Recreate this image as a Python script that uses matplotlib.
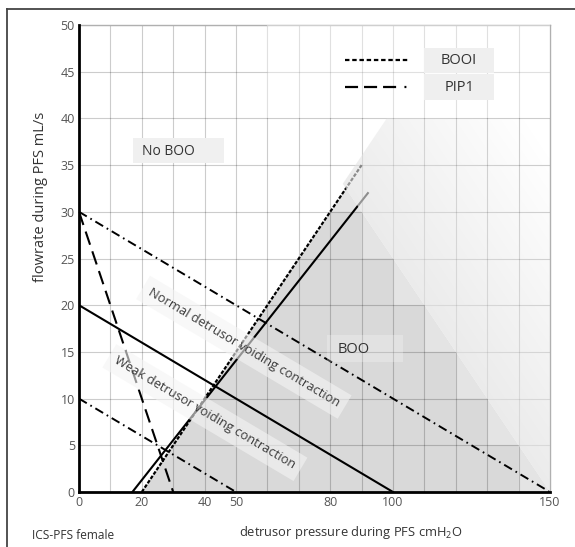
import matplotlib

matplotlib.use("Agg")
import matplotlib.pyplot as plt
import numpy as np
from matplotlib.lines import Line2D
from matplotlib.patches import Polygon, Rectangle

# nomogram lines (detrusor pressure cmH2O, flowrate mL/s)
booi_p = [20, 90]
booi_q = [0, 35]
contr_p = [17, 92]
contr_q = [0, 32]
pip1_p = [0, 30]
pip1_q = [30, 0]
strong_p = [0, 150]
strong_q = [30, 0]
normal_p = [0, 100]
normal_q = [20, 0]
weak_p = [0, 50]
weak_q = [10, 0]

# shaded obstruction zone
zone_p = [20, 85, 150]
zone_q = [0, 32.5, 0]
# stepped (cell-wise) core of the zone, upper right corner per row
step_p = [80, 90, 100, 110, 120, 130, 140]
step_q = [30, 25, 20, 15, 10, 5, 0]
# faded area above the zone
fade_p = [84, 98, 150, 150]
fade_q = [33, 40, 40, 0]

x_ticks = [0, 20, 40, 50, 80, 100, 150]
y_ticks = list(range(0, 51, 5))

plt.rcParams["font.family"] = ["Open Sans", "DejaVu Sans"]
plt.rcParams["mathtext.fontset"] = "custom"
plt.rcParams["mathtext.rm"] = "Open Sans"
plt.rcParams["lines.scale_dashes"] = False

fig = plt.figure(figsize=(5.75, 5.47), dpi=100)
ax = fig.add_axes([79 / 575, 55 / 547, 471 / 575, 467 / 547])
ax.set_xlim(0, 150)
ax.set_ylim(0, 50)

# zone fills
ax.add_patch(Polygon(list(zip(zone_p, zone_q)), closed=True, fc="#e4e4e4", ec="none", zorder=1))
core = [(booi_p[0], booi_q[0]), (step_p[0], step_q[0])]
for i, (p, q) in enumerate(zip(step_p, step_q)):
    core.append((p, q) if i == 0 else (p, step_q[i - 1]))
    core.append((p, q))
core.append((step_p[-1], 0))
ax.add_patch(Polygon(core, closed=True, fc="#d9d9d9", ec="none", zorder=1.1))

# grid
for gx in np.arange(10, 151, 10):
    ax.axvline(gx, color="black", alpha=0.2, lw=0.8, zorder=2)
for gy in np.arange(5, 51, 5):
    ax.axhline(gy, color="black", alpha=0.2, lw=0.8, zorder=2)

# lines
ax.plot(strong_p, strong_q, color="black", lw=1.4, dashes=(6.5, 3, 1.2, 3), zorder=4, clip_on=False)
ax.plot(weak_p, weak_q, color="black", lw=1.4, dashes=(6.5, 3, 1.2, 3), zorder=4)
ax.plot(normal_p, normal_q, color="black", lw=1.5, zorder=4)
ax.plot(pip1_p, pip1_q, color="black", lw=1.5, dashes=(10, 5), zorder=4)
ax.plot(contr_p, contr_q, color="black", lw=1.5, zorder=4)
ax.plot(booi_p, booi_q, color="black", lw=1.6, dashes=(2.6, 1.2), zorder=4)

# faded overlay above the zone
gx, gy = np.meshgrid(np.linspace(0, 150, 300), np.linspace(0, 50, 200))
dist = gy + gx / 2 - 75
alpha = 0.68 * np.clip(1 - dist / 36, 0, 1)
img = np.zeros(gx.shape + (4,))
img[..., :3] = 0.89
img[..., 3] = alpha
fade = Polygon(list(zip(fade_p, fade_q)), closed=True, fc="none", ec="none")
ax.add_patch(fade)
im = ax.imshow(img, extent=(0, 150, 0, 50), origin="lower", aspect="auto", zorder=5, interpolation="bilinear")
im.set_clip_path(fade)

# soften the grid behind the key
ax.add_patch(Rectangle((0.4, 0.8), 0.6, 0.2, transform=ax.transAxes, fc="white", alpha=0.4, ec="none", zorder=3))

# key
ax.add_patch(Rectangle((0.7325, 0.897), 0.1485, 0.054, transform=ax.transAxes, fc="#efefef", ec="none", zorder=6))
ax.add_patch(Rectangle((0.7325, 0.839), 0.1485, 0.056, transform=ax.transAxes, fc="#efefef", ec="none", zorder=6))
ax.plot([0.565, 0.703], [0.925, 0.925], transform=ax.transAxes, color="black", lw=1.6, dashes=(3.2, 2), zorder=7)
ax.plot([0.565, 0.703], [0.867, 0.867], transform=ax.transAxes, color="black", lw=1.6,
        dashes=(9.4, 4.3, 9.4, 4.3, 9.4, 6, 1.4, 20), zorder=7)
ax.text(0.807, 0.924, "BOOI", transform=ax.transAxes, ha="center", va="center", fontsize=10.5, color="#333333", zorder=8)
ax.text(0.807, 0.867, "PIP1", transform=ax.transAxes, ha="center", va="center", fontsize=10.5, color="#333333", zorder=8)

# region labels
ax.add_patch(Rectangle((0.1146, 0.7045), 0.1933, 0.0535, transform=ax.transAxes, fc="#f0f0f0", ec="none", zorder=6))
ax.text(0.134, 0.730, "No BOO", transform=ax.transAxes, ha="left", va="center", fontsize=10, color="#333333", zorder=8)
ax.add_patch(Rectangle((0.5265, 0.278), 0.1615, 0.058, transform=ax.transAxes, fc="white", alpha=0.25, ec="none", zorder=6))
ax.text(0.55, 0.306, "BOO", transform=ax.transAxes, ha="left", va="center", fontsize=10.5, color="#333333", zorder=8)

box = dict(boxstyle="square,pad=0.55", fc="#f4f4f4", ec="none", alpha=0.6)
ax.text(52.5, 15.5, "Normal detrusor voiding contraction", rotation=-30.7, rotation_mode="anchor",
        ha="center", va="center", fontsize=9.3, color="#3a3a3a", bbox=box, zorder=8)
ax.text(40.1, 8.5, "Weak detrusor voiding contraction", rotation=-30.7, rotation_mode="anchor",
        ha="center", va="center", fontsize=9.3, color="#3a3a3a", bbox=box, zorder=8)

# axes styling
ax.set_xticks(x_ticks)
ax.set_yticks(y_ticks)
ax.tick_params(length=0, labelsize=9, labelcolor="#555555", pad=3)
for side in ("left", "bottom"):
    ax.spines[side].set_linewidth(2)
    ax.spines[side].set_color("black")
    ax.spines[side].set_zorder(9)
for side in ("top", "right"):
    ax.spines[side].set_linewidth(1)
    ax.spines[side].set_color("#b0b0b0")

fig.text(0.0696, 0.640, "flowrate during PFS mL/s", rotation=90, ha="center", va="center", fontsize=10.5, color="#333333")
fig.text(0.6104, 0.0274, "detrusor pressure during PFS cmH$_2$O", ha="center", va="center", fontsize=9.3, color="#333333")
fig.text(0.0557, 0.0219, "ICS-PFS female", ha="left", va="center", fontsize=8.6, color="#333333")

# outer frame
fig.add_artist(Line2D([7 / 575, 7 / 575], [0, 1 - 9 / 547], transform=fig.transFigure, color="#444444", lw=1.3))
fig.add_artist(Line2D([7 / 575, 1], [1 - 9 / 547, 1 - 9 / 547], transform=fig.transFigure, color="#444444", lw=1.3))

fig.savefig("out.png", dpi=100)
